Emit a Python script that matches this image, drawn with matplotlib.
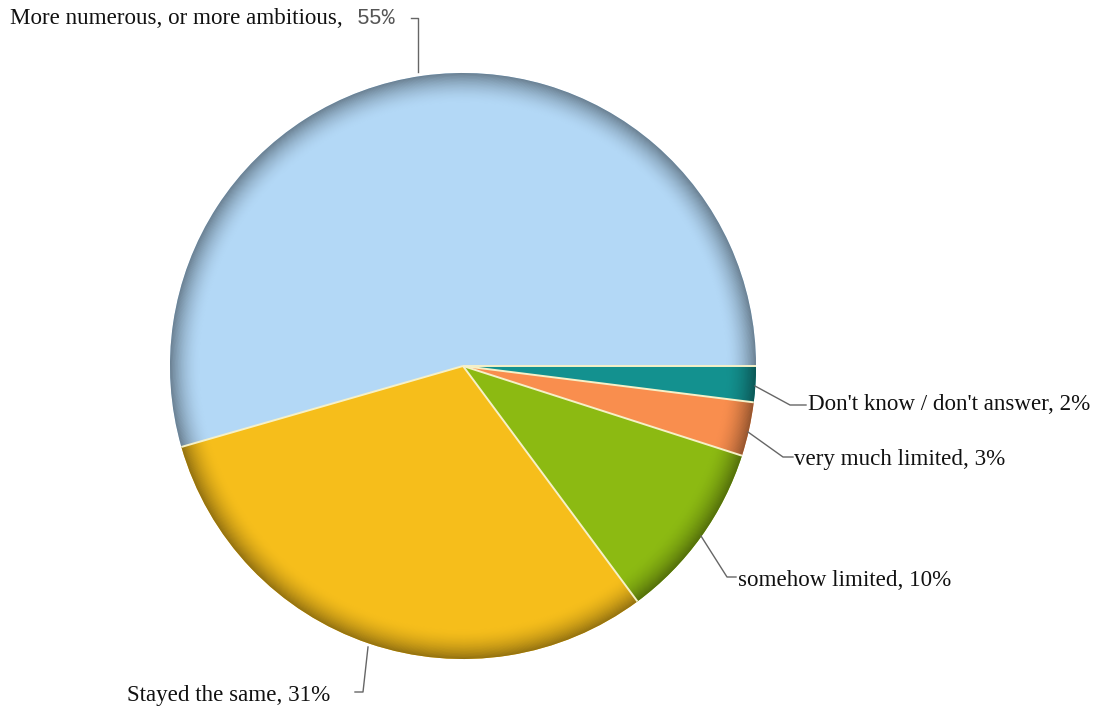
import matplotlib
matplotlib.use('Agg')
import matplotlib.pyplot as plt
from matplotlib.patches import Wedge
from matplotlib.colors import to_rgb
import numpy as np

# Survey answers, pie drawn counter-clockwise from 3 o'clock
labels = ['More numerous, or more ambitious', 'Stayed the same', 'somehow limited',
          'very much limited', "Don't know / don't answer"]
values = [55, 31, 10, 3, 2]
colors = ['#B3D8F6', '#F6BE1B', '#8CBA12', '#F98E4E', '#13918F']

W, H = 1112, 711
CX, CY, R = 463, H - 366, 293
RIM = 30  # width of the darkened bevel at the outer edge

fig = plt.figure(figsize=(W / 100, H / 100), dpi=100)
ax = fig.add_axes([0, 0, 1, 1])

wedges, _ = ax.pie(values, colors=colors, startangle=0, counterclock=True,
                   center=(CX, CY), radius=R, frame=True,
                   wedgeprops=dict(linewidth=0))
ax.set_xlim(0, W)
ax.set_ylim(0, H)
ax.set_aspect('equal')
ax.axis('off')

# bevel: rings getting darker towards the rim
n = 40
for w, c in zip(wedges, colors):
    base = np.array(to_rgb(c))
    dark = base * 0.6
    for i in range(n):
        r_out = R - i * RIM / n
        t = (1 - i / n) ** 1.8
        col = base * (1 - t) + dark * t
        ax.add_patch(Wedge((CX, CY), r_out, w.theta1, w.theta2,
                           width=RIM / n + 0.6, facecolor=col, edgecolor='none'))

# pale separators between slices
for w in wedges:
    a = np.deg2rad(w.theta1)
    ax.plot([CX, CX + R * np.cos(a)], [CY, CY + R * np.sin(a)],
            color='#F6F1C8', lw=1.4, solid_capstyle='butt')

serif = 'Liberation Serif'
fs = 16.6
line_c = '#666666'
txt_c = '#111111'

def py(y):
    return H - y

# leader lines and labels
ax.plot([411, 418, 418], [py(18), py(18), py(72)], color=line_c, lw=1)
ax.text(10, py(18), labels[0] + ', ', fontsize=fs, family=serif,
        va='center', ha='left', color=txt_c)
ax.text(357, py(19), f'{values[0]}%', fontsize=15.5, family='Liberation Mono',
        va='center', ha='left', color='#555555')

ax.plot([755, 790, 806], [py(386), py(405), py(405)], color=line_c, lw=1)
ax.text(808, py(405), f'{labels[4]}, {values[4]}%', fontsize=fs, family=serif,
        va='center', ha='left', color=txt_c)

ax.plot([748, 783, 793], [py(432), py(457), py(457)], color=line_c, lw=1)
ax.text(794, py(460), f'{labels[3]}, {values[3]}%', fontsize=fs, family=serif,
        va='center', ha='left', color=txt_c)

ax.plot([701, 727, 736], [py(536), py(577), py(577)], color=line_c, lw=1)
ax.text(738, py(580), f'{labels[2]}, {values[2]}%', fontsize=fs, family=serif,
        va='center', ha='left', color=txt_c)

ax.plot([368, 363, 355], [py(647), py(692), py(692)], color=line_c, lw=1)
ax.text(127, py(696), f'{labels[1]}, {values[1]}%', fontsize=fs, family=serif,
        va='center', ha='left', color=txt_c)

fig.savefig('out.png', dpi=100)
